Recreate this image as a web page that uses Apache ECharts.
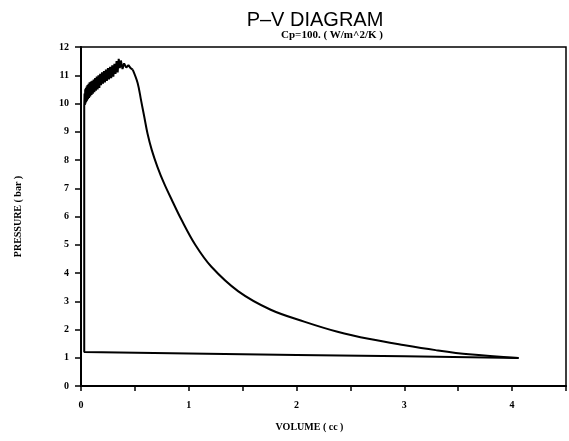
<!DOCTYPE html>
<html>
<head>
<meta charset="utf-8">
<script src="https://cdn.jsdelivr.net/npm/echarts@6/dist/echarts.min.js"></script>
<style>html,body{margin:0;padding:0;background:#fff;}#c{width:569px;height:441px;}</style>
</head>
<body>
<div id="c"></div>
<script>
var titleText = 'P\u2013V DIAGRAM';
var subtitleText = 'Cp=100. ( W/m^2/K )';
var xName = 'VOLUME ( cc )';
var yName = 'PRESSURE ( bar )';
var xTickLabels = ['0', '1', '2', '3', '4'];
var yTickLabels = ['0','1','2','3','4','5','6','7','8','9','10','11','12'];

// compression line, ignition rise and noisy combustion
var volumeA = [4.06, 3.0, 2.0, 1.0, 0.03, 0.03,
  0.033,0.036,0.039,0.042,0.045,0.048,0.052,0.056,0.06,0.065,0.07,0.075,0.08,0.086,0.092,0.098,0.104,0.11,0.117,0.124,0.131,0.138,0.146,0.154,0.162,0.17,0.178,0.186,0.195,0.204,0.213,0.222,0.231,0.24,0.25,0.26,0.27,0.28,0.29,0.3,0.31,0.32,0.33,0.34,0.35,0.36,0.37,0.385,0.4,0.42,0.44,0.46,0.48];
var pressureA = [0.99, 1.05, 1.1, 1.15, 1.2, 9.9,
  10.35,9.95,10.5,10.0,10.55,10.05,10.6,10.1,10.65,10.15,10.7,10.2,10.75,10.25,10.78,10.3,10.8,10.35,10.85,10.4,10.9,10.45,10.95,10.5,11.0,10.55,11.05,10.65,11.1,10.7,11.15,10.75,11.2,10.8,11.25,10.85,11.3,10.9,11.35,10.95,11.4,11.05,11.5,11.1,11.58,11.25,11.52,11.22,11.42,11.27,11.36,11.25,11.2];
// expansion
var volumeB = [0.48,0.526,0.557,0.587,0.617,0.657,0.709,0.771,0.847,0.93,1.06,1.21,1.46,1.76,2.07,2.38,2.68,2.99,3.29,3.6,4.06];
var pressureB = [11.2,10.72,10.12,9.53,8.94,8.35,7.76,7.17,6.55,5.9,5.0,4.22,3.35,2.7,2.28,1.92,1.66,1.45,1.27,1.12,0.99];

var ptsA = volumeA.map(function(v, i){ return [v, pressureA[i]]; });
var ptsB = volumeB.map(function(v, i){ return [v, pressureB[i]]; });
var font = 'Liberation Serif';
var chart = echarts.init(document.getElementById('c'));
chart.setOption({
  animation: false,
  backgroundColor: '#fff',
  title: [
    {text: titleText, left: 310, top: 5, textAlign: 'center',
     textStyle: {fontFamily: 'Liberation Sans', fontSize: 20, fontWeight: 'normal', color: '#000'}},
    {text: subtitleText, left: 327, top: 25, textAlign: 'center',
     textStyle: {fontFamily: font, fontSize: 11, fontWeight: 'bold', color: '#000'}}
  ],
  grid: {left: 81, right: -3, top: 47, bottom: 55, show: true, borderColor: '#000', borderWidth: 1.5, backgroundColor: 'transparent'},
  xAxis: {
    type: 'value', min: 0, max: 4.5, interval: 0.5,
    name: xName, nameLocation: 'middle', nameGap: 36,
    nameTextStyle: {fontFamily: font, fontSize: 10, fontWeight: 'bold', color: '#000', padding: [0, 28, 0, 0]},
    axisLine: {show: true, lineStyle: {color: '#000', width: 2}},
    axisTick: {show: true, length: 5, lineStyle: {color: '#000', width: 1.5}},
    axisLabel: {margin: 14, fontFamily: font, fontSize: 10, fontWeight: 'bold', color: '#000',
      formatter: function(v){ var i = xTickLabels.indexOf(String(v)); return i >= 0 ? xTickLabels[i] : ''; }},
    splitLine: {show: false}
  },
  yAxis: {
    type: 'value', min: 0, max: 12, interval: 1,
    name: yName, nameLocation: 'middle', nameGap: 58, nameRotate: 90,
    nameTextStyle: {fontFamily: font, fontSize: 10, fontWeight: 'bold', color: '#000'},
    axisLine: {show: true, lineStyle: {color: '#000', width: 2}},
    axisTick: {show: true, length: 6, lineStyle: {color: '#000', width: 1.5}},
    axisLabel: {margin: 12, fontFamily: font, fontSize: 10, fontWeight: 'bold', color: '#000',
      formatter: function(v){ var i = yTickLabels.indexOf(String(v)); return i >= 0 ? yTickLabels[i] : ''; }},
    splitLine: {show: false}
  },
  series: [{
    type: 'line', data: ptsA, showSymbol: false, symbol: 'none',
    lineStyle: {color: '#000', width: 2}
  }, {
    type: 'line', data: ptsB, showSymbol: false, symbol: 'none', smooth: 0.35,
    lineStyle: {color: '#000', width: 2}
  }]
});
</script>
</body>
</html>
